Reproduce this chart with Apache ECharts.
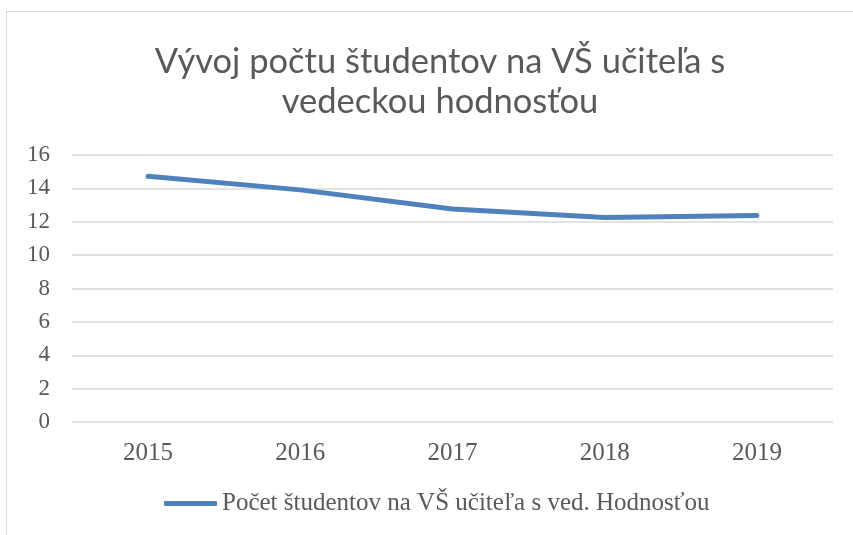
<!DOCTYPE html>
<html>
<head>
<meta charset="utf-8">
<script src="https://cdn.jsdelivr.net/npm/echarts@6/dist/echarts.min.js"></script>
<style>
  html, body { margin: 0; padding: 0; background: #fff; }
  #frame { position: absolute; left: 6px; top: 11px; width: 860px; height: 540px; border: 1px solid #d9d9d9; box-sizing: border-box; }
  #main { position: absolute; left: 0; top: 0; width: 853px; height: 535px; }
</style>
</head>
<body>
<div id="frame"></div>
<div id="main"></div>
<script>
  // data
  var years = ['2015', '2016', '2017', '2018', '2019'];
  var studentsPerTeacher = [14.72, 13.91, 12.77, 12.26, 12.38];
  var seriesName = 'Počet študentov na VŠ učiteľa s ved. Hodnosťou';
  var chartTitle = 'Vývoj počtu študentov na VŠ učiteľa s\nvedeckou hodnosťou';

  var Chart = echarts.init(document.getElementById('main'));

  var option = {
    animation: false,
    title: {
      text: chartTitle,
      left: 435,
      top: 37,
      textAlign: 'center',
      textStyle: {
        fontFamily: 'Lato',
        fontWeight: 'normal',
        fontSize: 34.5,
        lineHeight: 40,
        color: '#595959'
      }
    },
    grid: {
      left: 72,
      right: 20,
      top: 155,
      bottom: 113
    },
    legend: {
      left: 164,
      top: 491,
      padding: 0,
      icon: 'roundRect',
      itemWidth: 53,
      itemHeight: 5,
      itemGap: 5,
      data: [seriesName],
      textStyle: {
        fontFamily: 'Liberation Serif',
        fontSize: 25,
        color: '#595959',
        padding: [0, 0, 0, 0]
      }
    },
    xAxis: {
      type: 'category',
      data: years,
      axisLine: { show: false },
      axisTick: { show: false },
      axisLabel: {
        margin: 19,
        fontFamily: 'Liberation Serif',
        fontSize: 25,
        color: '#595959'
      }
    },
    yAxis: {
      type: 'value',
      min: 0,
      max: 16,
      interval: 2,
      axisLabel: {
        margin: 22,
        fontFamily: 'Liberation Serif',
        fontSize: 23,
        color: '#595959'
      },
      splitLine: {
        lineStyle: { color: '#d9d9d9', width: 1.5 }
      }
    },
    series: [
      {
        name: seriesName,
        type: 'line',
        data: studentsPerTeacher,
        symbol: 'none',
        itemStyle: { color: '#4f81bd' },
        lineStyle: { color: '#4f81bd', width: 5, cap: 'round', join: 'round' }
      }
    ]
  };

  Chart.setOption(option);
</script>
</body>
</html>
